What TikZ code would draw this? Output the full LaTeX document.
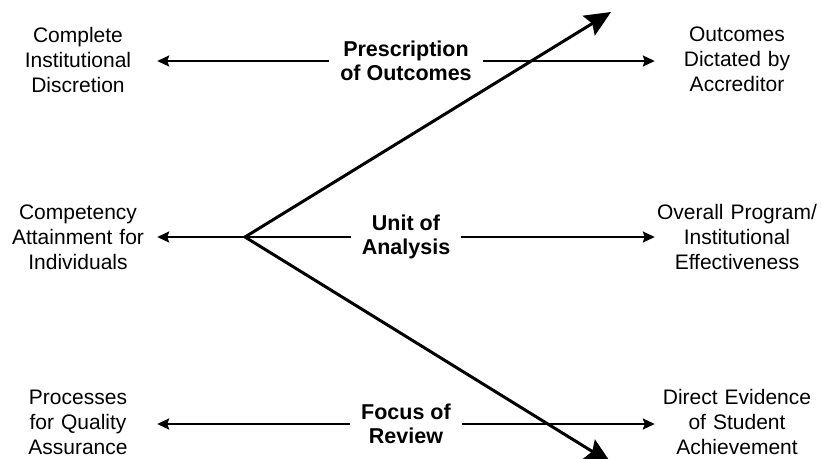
\documentclass[tikz,border=0pt]{standalone}
\usepackage{fontspec}
\setmainfont{Liberation Sans}
\usetikzlibrary{arrows.meta}

\begin{document}
\begin{tikzpicture}[x=1pt,y=-1pt,
                    pole node/.style={align=center,inner sep=0pt,font=\fontsize{21}{25}\selectfont},
                    axis node/.style={align=center,inner xsep=11pt,inner ysep=0pt,font=\fontsize{21.5}{24}\selectfont\bfseries},
                    bar/.style={-{Stealth[length=12pt,width=11pt,inset=2pt]},line width=2.2pt},
                    spoke/.style={-{Stealth[length=26pt,width=23pt,inset=4pt]},line width=3pt}]
  \useasboundingbox (0,0) rectangle (821,458);

  % left ends
  \node[pole node, text width=158pt] (L1) at (78,60) {Complete\\Institutional\\Discretion};
  \node[pole node, text width=158pt] (L2) at (78,237) {Competency\\Attainment for\\Individuals};
  \node[pole node, text width=158pt] (L3) at (78,422) {Processes\\for Quality\\Assurance};

  % right ends
  \node[pole node, text width=164pt] (R1) at (737,59) {Outcomes\\Dictated by\\Accreditor};
  \node[pole node, text width=164pt] (R2) at (737,237) {Overall Program/\\Institutional\\Effectiveness};
  \node[pole node, text width=164pt] (R3) at (737,422) {Direct Evidence\\of Student\\Achievement};

  % dimensions
  \node[axis node] (M1) at (406,61) {Prescription\\of Outcomes};
  \node[axis node] (M2) at (406,237) {Unit of\\Analysis};
  \node[axis node] (M3) at (406,424) {Focus of\\Review};

  \coordinate (v) at (245,237);
  \coordinate (up) at (611,12);
  \coordinate (down) at (611,463);

  \draw[bar] (M1) -- (L1.east |- M1);
  \draw[bar] (M1) -- (R1.west |- M1);
  \draw[bar] (M2) -- (L2.east |- M2);
  \draw[bar] (M2) -- (R2.west |- M2);
  \draw[bar] (M3) -- (L3.east |- M3);
  \draw[bar] (M3) -- (R3.west |- M3);

  \draw[spoke] (v) -- (up);
  \draw[spoke] (v) -- (down);
\end{tikzpicture}
\end{document}
